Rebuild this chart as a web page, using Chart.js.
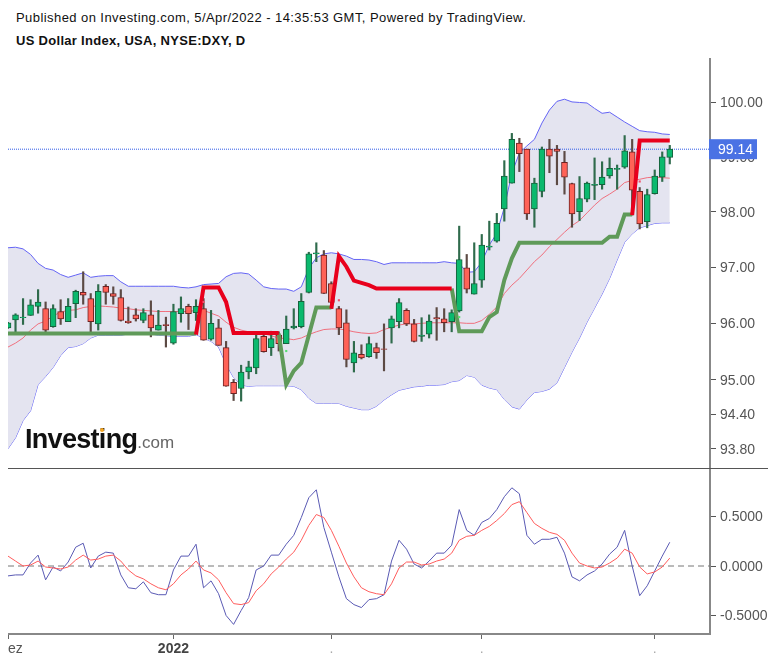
<!DOCTYPE html>
<html>
<head>
<meta charset="utf-8">
<title>US Dollar Index</title>
<script src="https://cdn.jsdelivr.net/npm/chart.js@4/dist/chart.umd.min.js"></script>
<style>
html, body { margin: 0; padding: 0; background: #fff; width: 776px; height: 663px; overflow: hidden; }
body { position: relative; font-family: "Liberation Sans", Arial, sans-serif; }
canvas { position: absolute; left: 8px; }
#priceChart { top: 58px; }
#macdChart { top: 469px; }
.head { position: absolute; left: 16px; color: #111; white-space: nowrap; }
#published { top: 10px; font-size: 13px; letter-spacing: 0.43px; }
#symbol { top: 33px; font-size: 13px; font-weight: bold; letter-spacing: 0.3px; }
#separator { position: absolute; left: 8px; top: 468px; width: 760px; height: 1px; background: #555; }
#logo { position: absolute; left: 25px; top: 424px; font-size: 27px; font-weight: bold; letter-spacing: -0.7px; color: #111; white-space: nowrap; z-index: 2; }
#logo span { font-size: 17px; font-weight: normal; letter-spacing: 0; color: #666; }
#logoDot { position: absolute; left: 100px; top: 428px; width: 4px; height: 4px; border-radius: 2px; background: #f5a623; z-index: 3; }
</style>
</head>
<body>
<div class="head" id="published">Published on Investing.com, 5/Apr/2022 - 14:35:53 GMT, Powered by TradingView.</div>
<div class="head" id="symbol">US Dollar Index, USA, NYSE:DXY, D</div>
<canvas id="priceChart" width="768" height="411"></canvas>
<canvas id="macdChart" width="768" height="194"></canvas>
<div id="separator"></div>
<div id="logo">Investing<span>.com</span></div>
<div id="logoDot"></div>
<script>
// daily candles
const opens = [95.92,96.06,96.10,96.14,96.30,96.26,95.94,96.21,96.03,96.35,96.55,96.44,95.99,96.66,96.53,96.46,96.04,96.15,96.05,96.15,95.88,95.98,95.65,96.17,96.30,96.19,96.26,95.72,95.92,95.57,94.96,94.85,95.14,95.21,95.77,95.57,95.79,95.64,95.92,95.94,96.55,97.24,97.22,96.71,96.26,96.01,95.30,95.45,95.41,95.57,95.55,95.92,96.03,96.23,95.99,95.77,95.81,96.10,96.08,96.03,96.22,96.99,96.52,96.77,97.36,97.47,98.05,98.52,99.25,99.14,98.05,98.37,99.14,99.14,98.90,98.51,98.00,98.23,98.48,98.49,98.65,98.77,98.81,99.09,98.37,97.82,98.33,98.63,98.99];
const closes = [96.01,96.15,96.11,96.33,96.38,95.88,96.26,96.08,96.30,96.57,96.50,96.03,96.57,96.55,96.48,96.05,96.01,96.08,96.19,95.92,95.97,95.96,96.21,96.26,96.17,96.30,95.70,96.00,95.61,94.89,94.76,95.14,95.23,95.73,95.50,95.73,95.64,95.90,95.95,96.39,97.24,97.26,96.53,96.37,95.92,95.36,95.48,95.39,95.64,95.48,95.54,96.08,96.37,95.99,95.68,95.79,96.04,96.08,96.01,96.19,97.14,96.61,96.71,97.40,97.38,97.79,98.65,99.32,99.06,97.96,98.52,99.14,99.01,99.10,98.63,97.96,98.24,98.52,98.50,98.63,98.79,98.79,99.11,98.39,97.78,98.31,98.65,99.00,99.14];
const highs = [96.02,96.17,96.44,96.42,96.60,96.38,96.33,96.42,96.44,96.59,96.92,96.53,96.69,96.69,96.65,96.60,96.29,96.26,96.26,96.40,96.23,96.11,96.34,96.47,96.34,96.42,96.44,96.23,96.07,95.68,95.01,95.26,95.33,95.80,95.82,95.86,95.85,96.13,96.26,96.53,97.27,97.44,97.30,96.74,96.30,96.24,95.68,95.62,95.76,95.65,95.99,96.13,96.44,96.26,96.07,96.10,96.15,96.28,96.26,96.24,97.74,97.23,97.44,97.59,97.83,97.97,98.93,99.43,99.34,99.14,98.61,99.18,99.32,99.21,99.10,98.52,98.64,98.54,98.98,98.91,98.98,98.85,99.39,99.32,98.44,98.41,98.76,99.09,99.21];
const lows = [95.91,95.84,95.98,96.14,96.18,95.85,95.93,95.98,96.03,96.10,96.34,95.85,95.88,96.34,96.34,96.04,96.00,96.04,96.01,95.76,95.88,95.58,95.63,96.02,95.89,96.05,95.70,95.70,95.61,94.89,94.64,94.63,95.02,95.11,95.49,95.43,95.51,95.64,95.90,95.92,96.54,97.10,96.53,96.26,95.80,95.23,95.14,95.37,95.40,95.38,95.16,95.65,95.92,95.96,95.67,95.68,95.74,95.70,95.85,95.85,96.20,96.54,96.52,96.64,97.31,97.45,97.83,98.52,98.73,97.86,97.72,98.27,98.71,98.49,98.32,97.72,97.84,98.18,98.22,98.41,98.61,98.41,98.79,97.94,97.69,97.71,98.32,98.55,98.87];

// bollinger bands
const bbUpper = [97.35,97.36,97.33,97.23,97.07,96.98,96.95,96.87,96.82,96.86,96.90,96.82,96.84,96.85,96.85,96.74,96.66,96.66,96.66,96.66,96.66,96.66,96.66,96.64,96.63,96.65,96.69,96.70,96.71,96.83,96.89,96.90,96.88,96.77,96.65,96.62,96.61,96.61,96.57,96.65,96.98,97.17,97.24,97.26,97.24,97.20,97.14,97.14,97.13,97.10,97.05,97.08,97.08,97.08,97.08,97.08,97.08,97.08,97.10,97.08,97.07,96.91,96.92,97.09,97.40,97.61,98.08,98.70,99.07,99.20,99.32,99.62,99.86,100.02,100.06,100.01,100.00,99.99,99.89,99.80,99.82,99.73,99.64,99.56,99.48,99.46,99.45,99.42,99.41];
const bbLower = [93.80,93.99,94.29,94.46,94.92,95.06,95.22,95.43,95.57,95.59,95.64,95.74,95.79,95.79,95.79,95.79,95.81,95.82,95.82,95.81,95.79,95.78,95.77,95.77,95.77,95.80,95.74,95.68,95.58,95.28,95.04,94.91,94.89,94.90,94.90,94.90,94.90,94.90,94.89,94.83,94.68,94.59,94.59,94.59,94.59,94.54,94.51,94.48,94.48,94.54,94.65,94.74,94.82,94.85,94.88,94.89,94.91,94.91,94.92,94.97,94.99,95.08,95.05,94.91,94.86,94.83,94.66,94.53,94.49,94.65,94.78,94.80,94.84,94.95,95.22,95.49,95.74,96.02,96.27,96.52,96.80,97.13,97.45,97.60,97.71,97.75,97.79,97.80,97.80];
const bbMiddle = [95.58,95.65,95.74,95.88,95.99,96.04,96.13,96.20,96.23,96.24,96.28,96.30,96.31,96.30,96.29,96.27,96.26,96.24,96.23,96.22,96.21,96.21,96.21,96.21,96.21,96.23,96.23,96.18,96.13,96.02,95.93,95.88,95.85,95.84,95.82,95.78,95.74,95.73,95.71,95.74,95.80,95.85,95.89,95.90,95.90,95.88,95.85,95.83,95.82,95.83,95.89,95.93,95.97,95.99,95.99,96.00,96.01,96.01,96.01,96.01,96.01,96.00,96.00,96.05,96.16,96.29,96.53,96.68,96.80,96.95,97.10,97.22,97.37,97.50,97.63,97.75,97.84,97.98,98.12,98.24,98.32,98.41,98.53,98.57,98.59,98.62,98.63,98.62,98.61];

// trend stop, green while below price and red while above, null where the other one runs
const _ = null;
const stopGreen = [95.82,95.82,95.82,95.82,95.82,95.82,95.82,95.82,95.82,95.82,95.82,95.82,95.82,95.82,95.82,95.82,95.82,95.82,95.82,95.82,95.82,95.82,95.82,95.82,95.82,95.82,_,_,_,_,_,_,_,_,_,_,95.82,94.92,95.16,95.30,95.79,96.28,96.28,96.28,_,_,_,_,_,_,_,_,_,_,_,_,_,_,_,96.62,95.86,95.86,95.86,95.86,96.11,96.20,96.77,97.16,97.44,97.44,97.44,97.44,97.44,97.44,97.44,97.44,97.44,97.44,97.44,97.44,97.55,97.55,97.95,97.95,_,_,_,_,_];
const stopRed = [_,_,_,_,_,_,_,_,_,_,_,_,_,_,_,_,_,_,_,_,_,_,_,_,_,95.80,96.64,96.64,96.64,96.38,95.83,95.83,95.83,95.83,95.83,95.83,95.83,_,_,_,_,_,_,96.26,97.20,97.01,96.76,96.72,96.68,96.62,96.62,96.62,96.62,96.62,96.62,96.62,96.62,96.62,96.62,96.62,_,_,_,_,_,_,_,_,_,_,_,_,_,_,_,_,_,_,_,_,_,_,_,97.94,99.30,99.30,99.30,99.30,99.30];

// small flip markers on the trend stop
const markerRedIdx = [26, 44, 84];
const markerRedVal = [96.38, 96.41, 98.55];
const markerGreenIdx = [37, 60];
const markerGreenVal = [95.51, 96.11];

// macd pane
const macdLine = [-0.10,-0.09,-0.09,0.03,0.11,-0.14,-0.01,-0.05,0.04,0.19,0.23,-0.02,0.10,0.14,0.13,-0.09,-0.22,-0.23,-0.16,-0.27,-0.29,-0.29,-0.04,0.10,0.10,0.22,-0.22,-0.15,-0.28,-0.50,-0.59,-0.45,-0.32,-0.04,0.00,0.11,0.11,0.22,0.31,0.49,0.69,0.77,0.39,0.14,-0.11,-0.33,-0.39,-0.42,-0.34,-0.33,-0.29,0.05,0.26,0.17,0.02,-0.02,0.05,0.13,0.13,0.21,0.57,0.36,0.31,0.44,0.48,0.57,0.70,0.79,0.73,0.31,0.22,0.27,0.27,0.29,0.13,-0.11,-0.15,-0.09,-0.05,0.02,0.12,0.19,0.36,0.00,-0.30,-0.20,-0.05,0.10,0.24];
const signalLine = [0.10,0.05,0.00,0.01,0.05,-0.01,-0.02,-0.03,-0.01,0.06,0.11,0.06,0.07,0.10,0.11,0.05,-0.04,-0.10,-0.13,-0.18,-0.22,-0.24,-0.18,-0.09,-0.03,0.05,-0.04,-0.07,-0.14,-0.27,-0.38,-0.39,-0.37,-0.25,-0.18,-0.08,-0.01,0.07,0.14,0.26,0.41,0.52,0.49,0.36,0.20,0.03,-0.11,-0.22,-0.26,-0.28,-0.29,-0.18,-0.02,0.04,0.04,0.01,0.02,0.05,0.07,0.13,0.26,0.30,0.31,0.36,0.40,0.46,0.53,0.62,0.65,0.54,0.43,0.38,0.34,0.32,0.26,0.13,0.03,0.00,-0.02,-0.01,0.03,0.08,0.17,0.13,-0.01,-0.08,-0.06,-0.01,0.08];

// axes
const priceTicks = [100, 99, 98, 97, 96, 95, 94.4, 93.8];
const macdTicks = [0.5, 0, -0.5];
const dateTickIdx = [0, 0.32, 22, 43, 63, 86];
const dateTickLabels = ['', 'Dez', '2022', '.', '.', '.'];
const lastPrice = 99.14;
const lastIndex = 93.35;

const UP = '#0bb96e', UP_DARK = '#17603c', DOWN = '#ff6257', DOWN_DARK = '#6e2222';
const AXIS = '#888888', TEXT = '#555555';
const tickFont = { family: '"Liberation Sans", Arial, sans-serif', size: 14 };

const pts = arr => arr.map((v, i) => ({ x: i, y: v }));
const isUp = i => closes[i] >= opens[i];
const upDown = (a, b) => opens.map((_o, i) => isUp(i) ? a : b);

function lineSet(data, color, width, order, extra = {}) {
    return { type: 'line', data, borderColor: color, borderWidth: width, pointRadius: 0, tension: 0, order, ...extra };
}

function markerSet(idx, vals, color) {
    return {
        type: 'line', showLine: false, order: 1,
        data: idx.map((x, i) => ({ x, y: vals[i] })),
        pointStyle: 'rect', pointRadius: 1.5, pointBackgroundColor: color, pointBorderWidth: 0
    };
}

// y axes are a fixed 66px and must not reserve room for half a tick label
function fixWidth(scale) {
    scale.width = 66;
    scale.paddingTop = 0;
    scale.paddingBottom = 0;
}

function fixHeight(scale) {
    scale.height = 29;
    scale.paddingLeft = 0;
    scale.paddingRight = 0;
}

const lastPriceBox = {
    id: 'lastPriceBox',
    afterDraw(chart) {
        const { ctx, chartArea, scales } = chart;
        const y = scales.y.getPixelForValue(lastPrice);
        ctx.save();
        ctx.fillStyle = '#4a72e4';
        ctx.fillRect(chartArea.right - 1, y - 10, 48, 20);
        ctx.fillStyle = '#fff';
        ctx.font = '14px "Liberation Sans", Arial, sans-serif';
        ctx.textBaseline = 'middle';
        ctx.fillText(lastPrice.toFixed(2), chartArea.right + 8, y + 1);
        ctx.restore();
    }
};

new Chart(document.getElementById('priceChart'), {
    type: 'bar',
    data: {
        datasets: [
            markerSet(markerRedIdx, markerRedVal, '#f0506a'),
            markerSet(markerGreenIdx, markerGreenVal, '#55e070'),
            lineSet(pts(stopRed), '#e8001c', 4, 2, { borderJoinStyle: 'miter' }),
            lineSet(pts(stopGreen), '#5f9a59', 4, 3, { borderJoinStyle: 'miter' }),
            {
                type: 'bar', order: 4, grouped: false, barThickness: 6, borderWidth: 1, borderSkipped: false,
                data: opens.map((o, i) => ({ x: i, y: [o, closes[i]] })),
                backgroundColor: upDown(UP, DOWN), borderColor: upDown(UP_DARK, DOWN_DARK)
            },
            {
                type: 'bar', order: 5, grouped: false, barThickness: 1.5, borderWidth: 0,
                data: lows.map((l, i) => ({ x: i, y: [l, highs[i]] })),
                backgroundColor: upDown('#2f6b4c', '#5c4a44')
            },
            lineSet([{ x: 0, y: lastPrice }, { x: lastIndex, y: lastPrice }], '#2f5be8', 1, 6, { borderDash: [1, 1] }),
            lineSet(pts(bbMiddle), '#f0707e', 1, 7),
            lineSet(pts(bbUpper), '#6464f5', 1, 8, { fill: '+1', backgroundColor: 'rgba(228,228,240,1)' }),
            lineSet(pts(bbLower), '#6464f5', 1, 9)
        ]
    },
    options: {
        responsive: false,
        animation: false,
        events: [],
        layout: { autoPadding: false },
        plugins: { legend: { display: false }, tooltip: { enabled: false } },
        scales: {
            x: { type: 'linear', display: false, min: 0, max: lastIndex, offset: false, bounds: 'data' },
            y: {
                type: 'logarithmic', position: 'right', min: 93.45, max: 100.825, bounds: 'data',
                afterBuildTicks: s => { s.ticks = priceTicks.map(v => ({ value: v })); },
                afterFit: fixWidth,
                border: { display: true, color: AXIS, width: 2 },
                grid: { drawOnChartArea: false, drawTicks: true, tickLength: 6, color: '#555', tickWidth: 1 },
                ticks: { color: TEXT, font: tickFont, padding: 4, labelOffset: 1, autoSkip: false, callback: v => Number(v).toFixed(2) }
            }
        }
    },
    plugins: [lastPriceBox]
});

new Chart(document.getElementById('macdChart'), {
    type: 'line',
    data: {
        datasets: [
            lineSet(pts(signalLine), '#ff5c5c', 1, 1),
            lineSet(pts(macdLine), '#5a5ab4', 1, 2),
            lineSet([{ x: 0, y: 0 }, { x: lastIndex, y: 0 }], '#777777', 1, 3, { borderDash: [6, 4] })
        ]
    },
    options: {
        responsive: false,
        animation: false,
        events: [],
        layout: { autoPadding: false },
        plugins: { legend: { display: false }, tooltip: { enabled: false } },
        scales: {
            x: {
                type: 'linear', min: 0, max: lastIndex, offset: false, bounds: 'data',
                afterBuildTicks: s => { s.ticks = dateTickIdx.map(v => ({ value: v })); },
                afterFit: fixHeight,
                border: { display: true, color: AXIS, width: 2 },
                grid: {
                    drawOnChartArea: false, drawTicks: true, tickLength: 5,
                    tickColor: ctx => ctx.index === 1 ? 'rgba(0,0,0,0)' : '#666'
                },
                ticks: {
                    autoSkip: false, maxRotation: 0, padding: 2,
                    color: ctx => ctx.index === 2 ? '#444' : ctx.index > 2 ? '#aaa' : TEXT,
                    font: ctx => ({ ...tickFont, weight: ctx.index === 2 ? 'bold' : 'normal' }),
                    callback: (v, i) => dateTickLabels[i]
                }
            },
            y: {
                position: 'right', min: -0.687, max: 0.98, bounds: 'data',
                afterBuildTicks: s => { s.ticks = macdTicks.map(v => ({ value: v })); },
                afterFit: fixWidth,
                border: { display: true, color: AXIS, width: 2 },
                grid: { drawOnChartArea: false, drawTicks: true, tickLength: 6, color: '#555', tickWidth: 1 },
                ticks: { color: TEXT, font: tickFont, padding: 4, labelOffset: 1, autoSkip: false, callback: v => Number(v).toFixed(4) }
            }
        }
    }
});
</script>
</body>
</html>
